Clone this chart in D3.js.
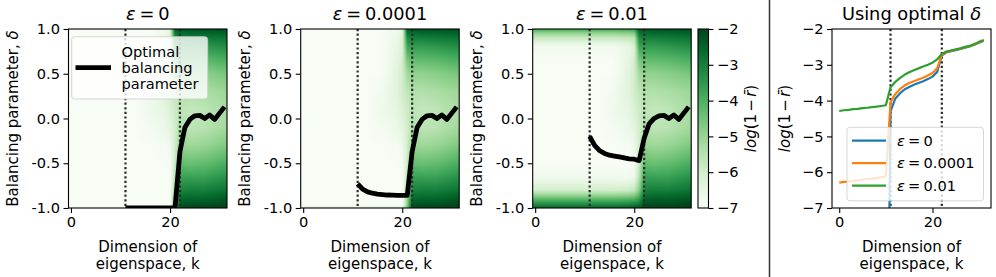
<!DOCTYPE html>
<html><head><meta charset="utf-8">
<script src="https://cdn.jsdelivr.net/npm/d3@7"></script>
<style>
body{margin:0;background:#fff}
svg{display:block}
text{font-family:"DejaVu Sans",sans-serif;fill:#000}
</style>
</head><body>
<svg id="chart" width="996" height="277"></svg>
<script>
// ---------------- DATA ----------------
const epsLabels = ["0", "0.0001", "0.01"];
const kCols = [0, 10, 13, 16, 19, 20, 21, 22, 24, 27, 31];
const deltaRows = [-1, -0.96, -0.9, -0.8, -0.65, -0.5, -0.3, -0.1, 0.1, 0.3, 0.5, 0.65, 0.8, 0.9, 0.96, 1];
// log(1 - r) heat values, rows = deltaRows (bottom to top), cols = kCols
const heatEps0 = [
  [-7, -7, -7, -7, -7, -7, -4.0, -2.1, -2.0, -2.0, -2.0],
  [-7, -7, -7, -7, -7, -7, -4.2, -2.3, -2.2, -2.2, -2.1],
  [-7, -7, -7, -7, -7, -7, -4.5, -2.6, -2.5, -2.5, -2.3],
  [-7, -7, -7, -7, -7, -7, -5.0, -3.1, -3.0, -3.0, -2.8],
  [-7, -7, -7, -7, -7, -7, -5.5, -3.7, -3.7, -3.7, -3.4],
  [-7, -7, -7, -7, -7, -6.9, -5.8, -4.3, -4.4, -4.3, -4.0],
  [-7, -7, -7, -7, -6.9, -6.7, -6.0, -5.0, -5.1, -5.0, -4.7],
  [-7, -7, -7, -6.9, -6.6, -6.4, -6.0, -5.4, -5.6, -5.5, -5.2],
  [-7, -7, -7, -6.7, -6.4, -6.2, -5.9, -5.6, -5.7, -5.6, -5.3],
  [-7, -7, -7, -6.8, -6.3, -6.0, -5.7, -5.4, -5.4, -5.3, -5.1],
  [-7, -7, -7, -7, -6.3, -6.0, -5.2, -4.9, -4.9, -4.8, -4.6],
  [-7, -7, -7, -7, -6.4, -6.1, -4.6, -4.3, -4.3, -4.2, -4.0],
  [-7, -7, -7, -7, -6.5, -6.2, -3.8, -3.6, -3.6, -3.5, -3.3],
  [-7, -7, -7, -7, -6.6, -6.3, -3.2, -3.0, -3.0, -2.9, -2.8],
  [-7, -7, -7, -7, -6.7, -6.4, -2.7, -2.6, -2.5, -2.5, -2.4],
  [-7, -7, -7, -7, -6.7, -6.4, -2.4, -2.3, -2.3, -2.2, -2.2]
];
const heatEps1 = [
  [-6.4, -6.4, -6.4, -6.4, -6.4, -6.2, -4.5, -2.1, -2.0, -2.0, -2.0],
  [-7, -7, -7, -7, -7, -7, -4.8, -2.3, -2.2, -2.2, -2.1],
  [-7, -7, -7, -7, -7, -7, -5.0, -2.6, -2.5, -2.5, -2.3],
  [-7, -7, -7, -7, -7, -7, -5.3, -3.1, -3.0, -3.0, -2.8],
  [-7, -7, -7, -7, -7, -7, -5.6, -3.7, -3.7, -3.7, -3.4],
  [-7, -7, -7, -7, -7, -6.9, -5.9, -4.3, -4.4, -4.3, -4.0],
  [-7, -7, -7, -7, -6.9, -6.7, -6.0, -5.0, -5.1, -5.0, -4.7],
  [-7, -7, -7, -6.9, -6.6, -6.4, -6.0, -5.4, -5.6, -5.5, -5.2],
  [-7, -7, -7, -6.7, -6.4, -6.2, -5.9, -5.6, -5.7, -5.6, -5.3],
  [-7, -7, -7, -6.8, -6.3, -6.0, -5.7, -5.4, -5.4, -5.3, -5.1],
  [-7, -7, -7, -7, -6.3, -6.0, -5.2, -4.9, -4.9, -4.8, -4.6],
  [-7, -7, -7, -7, -6.4, -6.1, -4.6, -4.3, -4.3, -4.2, -4.0],
  [-7, -7, -7, -7, -6.5, -6.2, -3.8, -3.6, -3.6, -3.5, -3.3],
  [-7, -7, -7, -7, -6.6, -6.3, -3.2, -3.0, -3.0, -2.9, -2.8],
  [-7, -7, -7, -7, -6.7, -6.4, -2.7, -2.6, -2.5, -2.5, -2.4],
  [-7, -7, -7, -7, -6.7, -6.5, -2.4, -2.3, -2.3, -2.2, -2.2]
];
const heatEps2 = [
  [-2.5, -2.5, -2.5, -2.5, -2.4, -2.3, -2.2, -2.0, -2.0, -2.0, -2.0],
  [-3.2, -3.2, -3.2, -3.2, -3.1, -3.0, -2.8, -2.2, -2.1, -2.1, -2.0],
  [-4.2, -4.2, -4.2, -4.2, -4.1, -4.0, -3.6, -2.5, -2.4, -2.4, -2.3],
  [-6.0, -6.0, -6.0, -6.0, -5.9, -5.7, -4.8, -3.1, -3.0, -3.0, -2.8],
  [-6.8, -6.8, -6.8, -6.8, -6.8, -6.7, -5.5, -3.7, -3.7, -3.7, -3.4],
  [-7, -7, -7, -7, -7, -6.9, -5.8, -4.3, -4.4, -4.3, -4.0],
  [-7, -7, -7, -7, -6.9, -6.7, -6.0, -5.0, -5.1, -5.0, -4.7],
  [-7, -7, -7, -6.9, -6.6, -6.4, -6.0, -5.4, -5.6, -5.5, -5.2],
  [-7, -7, -7, -6.7, -6.4, -6.2, -5.9, -5.6, -5.7, -5.6, -5.3],
  [-7, -7, -7, -6.8, -6.3, -6.0, -5.7, -5.4, -5.4, -5.3, -5.1],
  [-7, -7, -7, -7, -6.3, -6.0, -5.2, -4.9, -4.9, -4.8, -4.6],
  [-7, -7, -7, -7, -6.4, -6.1, -4.6, -4.3, -4.3, -4.2, -4.0],
  [-6.8, -6.8, -6.8, -6.8, -6.5, -6.2, -3.8, -3.6, -3.6, -3.5, -3.3],
  [-5.8, -5.8, -5.8, -5.8, -5.7, -5.6, -3.2, -3.0, -3.0, -2.9, -2.8],
  [-4.8, -4.8, -4.8, -4.8, -4.7, -4.6, -2.7, -2.6, -2.5, -2.5, -2.4],
  [-3.8, -3.8, -3.8, -3.8, -3.7, -3.6, -2.4, -2.3, -2.3, -2.2, -2.2]
];
// optimal balancing parameter delta for k = 11..31
const optK = [11, 12, 13, 14, 15, 16, 17, 18, 19, 20, 21, 22, 23, 24, 25, 26, 27, 28, 29, 30, 31];
const optEps0 = [-1, -1, -1, -1, -1, -1, -1, -1, -1, -1, -1, -0.37, -0.1, -0.01, 0.03, 0.035, 0.0, 0.04, -0.01, 0.06, 0.13];
const optEps1 = [-0.73, -0.79, -0.82, -0.835, -0.845, -0.85, -0.855, -0.857, -0.86, -0.86, -0.86, -0.37, -0.1, -0.01, 0.03, 0.035, 0.0, 0.04, -0.01, 0.06, 0.13];
const optEps2 = [-0.2, -0.3, -0.36, -0.39, -0.41, -0.42, -0.43, -0.44, -0.45, -0.455, -0.47, -0.22, -0.06, 0.0, 0.03, 0.035, 0.0, 0.04, -0.01, 0.06, 0.13];
// log(1 - r) using optimal delta, k = 0..31
const curveK = [0, 1, 2, 3, 4, 5, 6, 7, 8, 9, 10, 11, 12, 13, 14, 15, 16, 17, 18, 19, 20, 21, 22, 23, 24, 25, 26, 27, 28, 29, 30, 31];
const curveEps0 = [-16, -16, -16, -16, -16, -16, -16, -16, -16, -16, -16, -4.3, -3.95, -3.8, -3.69, -3.62, -3.56, -3.51, -3.46, -3.4, -3.33, -3.2, -2.74, -2.65, -2.62, -2.59, -2.56, -2.52, -2.49, -2.44, -2.38, -2.33];
const curveEps1 = [-6.29, -6.27, -6.26, -6.24, -6.23, -6.21, -6.19, -6.18, -6.16, -6.14, -6.12, -4.05, -3.82, -3.68, -3.58, -3.51, -3.46, -3.41, -3.36, -3.3, -3.23, -3.1, -2.72, -2.64, -2.61, -2.58, -2.55, -2.51, -2.48, -2.43, -2.37, -2.32];
const curveEps2 = [-4.29, -4.27, -4.26, -4.24, -4.23, -4.21, -4.2, -4.18, -4.17, -4.15, -4.13, -3.63, -3.48, -3.37, -3.28, -3.21, -3.15, -3.1, -3.05, -3.0, -2.94, -2.85, -2.7, -2.63, -2.6, -2.57, -2.54, -2.5, -2.47, -2.42, -2.36, -2.31];
const dottedK = [11, 22];
const heatTicksX = [0, 20];
const heatTicksY = [-1, -0.5, 0, 0.5, 1];
const colorTicks = [-2, -3, -4, -5, -6, -7];
const curveTicksX = [0, 20];
const curveTicksY = [-7, -6, -5, -4, -3, -2];
const curveColors = ["#1f77b4", "#ff7f0e", "#2ca02c"];

// ---------------- LAYOUT ----------------
const svg = d3.select("#chart");
const pTop = 29, pBot = 208, pw = 158.5;
const heatLeft = [68.5, 300.7, 532.7];
const FT = 14.6, FL = 15, FTITLE = 17.8;
const color = d3.scaleSequential(d3.interpolateGreens).domain([-7, -2]).clamp(true);
const lut = d3.range(256).map(i => d3.rgb(color(-7 + 5 * i / 255)));
const defs = svg.append("defs");

function mathEps(sel, val) {
  sel.append("tspan").attr("font-style", "italic").text("ε");
  sel.append("tspan").attr("dx", "0.22em").text("=");
  sel.append("tspan").attr("dx", "0.22em").text(val);
}
function logLabel(sel) {
  sel.append("tspan").attr("font-style", "italic").text("log");
  sel.append("tspan").text("(1");
  sel.append("tspan").attr("dx", "0.15em").text("−");
  sel.append("tspan").attr("dx", "0.15em").attr("font-style", "italic").text("r\u0304");
  sel.append("tspan").text(")");
}
function styleAxis(g, size) {
  g.select(".domain").remove();
  g.selectAll(".tick line").attr("stroke", "#000").attr("stroke-width", 1.1);
  g.selectAll(".tick text").attr("font-size", size).attr("font-family", "DejaVu Sans").attr("fill", "#000");
}
function xLabel(cx) {
  const t = svg.append("text").attr("text-anchor", "middle").attr("font-size", FL);
  t.append("tspan").attr("x", cx).attr("y", 252).text("Dimension of");
  t.append("tspan").attr("x", cx).attr("y", 269).text("eigenspace, k");
}

function drawHeat(grid, x, y) {
  const s = 2;
  const x0 = x.range()[0], x1 = x.range()[1], y0 = y.range()[1], y1 = y.range()[0];
  const cw = Math.round((x1 - x0) * s), ch = Math.round((y1 - y0) * s);
  const canvas = document.createElement("canvas");
  canvas.width = cw; canvas.height = ch;
  const ctx = canvas.getContext("2d");
  const img = ctx.createImageData(cw, ch);
  const ki = d3.scaleLinear().domain(kCols).range(kCols.map((_, i) => i)).clamp(true);
  const di = d3.scaleLinear().domain(deltaRows).range(deltaRows.map((_, i) => i)).clamp(true);
  const vi = d3.scaleLinear().domain([-7, -2]).range([0, 255]).clamp(true);
  for (let py = 0; py < ch; py++) {
    const d = y.invert(y0 + (py + 0.5) / s);
    const fj = di(d);
    const j0 = Math.min(Math.floor(fj), deltaRows.length - 2), tj = fj - j0;
    for (let px = 0; px < cw; px++) {
      const k = x.invert(x0 + (px + 0.5) / s);
      const fi = ki(k);
      const i0 = Math.min(Math.floor(fi), kCols.length - 2), ti = fi - i0;
      const v = (1 - tj) * ((1 - ti) * grid[j0][i0] + ti * grid[j0][i0 + 1]) +
                tj * ((1 - ti) * grid[j0 + 1][i0] + ti * grid[j0 + 1][i0 + 1]);
      const c = lut[Math.round(vi(v))];
      const o = (py * cw + px) * 4;
      img.data[o] = c.r; img.data[o + 1] = c.g; img.data[o + 2] = c.b; img.data[o + 3] = 255;
    }
  }
  ctx.putImageData(img, 0, 0);
  svg.append("image").attr("x", x0).attr("y", y0).attr("width", x1 - x0).attr("height", y1 - y0)
    .attr("preserveAspectRatio", "none").attr("href", canvas.toDataURL());
}

const heats = [heatEps0, heatEps1, heatEps2];
const opts = [optEps0, optEps1, optEps2];

heats.forEach((grid, p) => {
  const L = heatLeft[p];
  const x = d3.scaleLinear().domain([-0.5, 31.5]).range([L, L + pw]);
  const y = d3.scaleLinear().domain([-1, 1]).range([pBot, pTop]);
  drawHeat(grid, x, y);
  const cid = "clipH" + p;
  defs.append("clipPath").attr("id", cid).append("rect")
    .attr("x", L).attr("y", pTop).attr("width", pw).attr("height", pBot - pTop);
  const g = svg.append("g").attr("clip-path", `url(#${cid})`);
  dottedK.forEach(k => {
    g.append("line").attr("x1", x(k)).attr("x2", x(k)).attr("y1", pTop).attr("y2", pBot)
      .attr("stroke", "#2a2a2a").attr("stroke-width", 2.2).attr("stroke-dasharray", "2.2,2.4");
  });
  g.append("path").datum(optK.map((k, i) => [k, opts[p][i]]))
    .attr("fill", "none").attr("stroke", "#000").attr("stroke-width", 4.8)
    .attr("stroke-linejoin", "round")
    .attr("d", d3.line().x(d => x(d[0])).y(d => y(d[1])));
  const ax = svg.append("g").attr("transform", `translate(0,${pBot})`)
    .call(d3.axisBottom(x).tickValues(heatTicksX).tickSize(5).tickPadding(3.5).tickFormat(d3.format("d")));
  styleAxis(ax, FT);
  const ay = svg.append("g").attr("transform", `translate(${L},0)`)
    .call(d3.axisLeft(y).tickValues(heatTicksY).tickSize(5).tickPadding(3.5).tickFormat(d => d.toFixed(1)));
  styleAxis(ay, FT);
  svg.append("rect").attr("x", L).attr("y", pTop).attr("width", pw).attr("height", pBot - pTop)
    .attr("fill", "none").attr("stroke", "#000").attr("stroke-width", 1.1);
  const t = svg.append("text").attr("x", L + pw / 2).attr("y", 20).attr("text-anchor", "middle").attr("font-size", FTITLE);
  mathEps(t, epsLabels[p]);
  const yl = svg.append("text").attr("transform", `translate(${L - 51},${(pTop + pBot) / 2}) rotate(-90)`)
    .attr("text-anchor", "middle").attr("font-size", FL);
  yl.append("tspan").text("Balancing parameter, ");
  yl.append("tspan").attr("font-style", "italic").text("δ");
  xLabel(L + pw / 2);
});

// legend panel 1
{
  const lg = svg.append("g");
  lg.append("rect").attr("x", 71.7).attr("y", 36.7).attr("width", 136).attr("height", 62.3).attr("rx", 3)
    .attr("fill", "#fff").attr("fill-opacity", 0.8).attr("stroke", "#ccc").attr("stroke-opacity", 0.8);
  lg.append("line").attr("x1", 75.5).attr("x2", 111).attr("y1", 67.7).attr("y2", 67.7)
    .attr("stroke", "#000").attr("stroke-width", 4.8);
  ["Optimal", "balancing", "parameter"].forEach((s, i) => {
    lg.append("text").attr("x", 121.5).attr("y", 51.7 + i * 16).attr("dy", "0.36em").attr("font-size", FT).text(s);
  });
}

// colorbar
{
  const cx = 698, cw = 10.5;
  const cy = d3.scaleLinear().domain([-7, -2]).range([pBot, pTop]);
  const grad = defs.append("linearGradient").attr("id", "cbar").attr("x1", 0).attr("x2", 0).attr("y1", 1).attr("y2", 0);
  d3.range(11).forEach(i => {
    grad.append("stop").attr("offset", i / 10).attr("stop-color", color(-7 + 5 * i / 10));
  });
  svg.append("rect").attr("x", cx).attr("y", pTop).attr("width", cw).attr("height", pBot - pTop)
    .attr("fill", "url(#cbar)").attr("stroke", "#000").attr("stroke-width", 1.1);
  const ac = svg.append("g").attr("transform", `translate(${cx + cw},0)`)
    .call(d3.axisRight(cy).tickValues(colorTicks).tickSize(5).tickPadding(3.5).tickFormat(d3.format("d")));
  styleAxis(ac, FT);
  const cl = svg.append("text").attr("transform", `translate(756,${(pTop + pBot) / 2}) rotate(-90)`)
    .attr("text-anchor", "middle").attr("font-size", FL);
  logLabel(cl);
}

// separator
svg.append("line").attr("x1", 769.5).attr("x2", 769.5).attr("y1", 0).attr("y2", 277)
  .attr("stroke", "#333").attr("stroke-width", 1.5);

// panel 4
{
  const L = 832, R = 991;
  const x = d3.scaleLinear().domain([-1.55, 32.55]).range([L, R]);
  const y = d3.scaleLinear().domain([-7, -2]).range([pBot, pTop]);
  defs.append("clipPath").attr("id", "clipC").append("rect")
    .attr("x", L).attr("y", pTop).attr("width", R - L).attr("height", pBot - pTop);
  const g = svg.append("g").attr("clip-path", "url(#clipC)");
  dottedK.forEach(k => {
    g.append("line").attr("x1", x(k)).attr("x2", x(k)).attr("y1", pTop).attr("y2", pBot)
      .attr("stroke", "#2a2a2a").attr("stroke-width", 2.2).attr("stroke-dasharray", "2.2,2.4");
  });
  const curves = [curveEps0, curveEps1, curveEps2];
  curves.forEach((c, i) => {
    g.append("path").datum(curveK.map((k, j) => [k, c[j]]))
      .attr("fill", "none").attr("stroke", curveColors[i]).attr("stroke-width", 2.2)
      .attr("stroke-linejoin", "round")
      .attr("d", d3.line().x(d => x(d[0])).y(d => y(d[1])));
  });
  const ax = svg.append("g").attr("transform", `translate(0,${pBot})`)
    .call(d3.axisBottom(x).tickValues(curveTicksX).tickSize(5).tickPadding(3.5).tickFormat(d3.format("d")));
  styleAxis(ax, FT);
  const ay = svg.append("g").attr("transform", `translate(${L},0)`)
    .call(d3.axisLeft(y).tickValues(curveTicksY).tickSize(5).tickPadding(3.5).tickFormat(d3.format("d")));
  styleAxis(ay, FT);
  svg.append("rect").attr("x", L).attr("y", pTop).attr("width", R - L).attr("height", pBot - pTop)
    .attr("fill", "none").attr("stroke", "#000").attr("stroke-width", 1.1);
  const t = svg.append("text").attr("x", (L + R) / 2).attr("y", 20).attr("text-anchor", "middle").attr("font-size", FTITLE);
  t.append("tspan").text("Using optimal ");
  t.append("tspan").attr("font-style", "italic").text("δ");
  const yl = svg.append("text").attr("transform", `translate(790,${(pTop + pBot) / 2}) rotate(-90)`)
    .attr("text-anchor", "middle").attr("font-size", FL);
  logLabel(yl);
  xLabel((L + R) / 2);
  const lg = svg.append("g");
  lg.append("rect").attr("x", 847).attr("y", 127.3).attr("width", 136.5).attr("height", 73.5).attr("rx", 3)
    .attr("fill", "#fff").attr("fill-opacity", 0.8).attr("stroke", "#ccc").attr("stroke-opacity", 0.8);
  epsLabels.forEach((lab, i) => {
    const yy = 140.7 + i * 22.5;
    lg.append("line").attr("x1", 852).attr("x2", 886).attr("y1", yy).attr("y2", yy)
      .attr("stroke", curveColors[i]).attr("stroke-width", 2.2);
    const tx = lg.append("text").attr("x", 897).attr("y", yy).attr("dy", "0.36em").attr("font-size", FT);
    mathEps(tx, lab);
  });
}
</script>
</body></html>
